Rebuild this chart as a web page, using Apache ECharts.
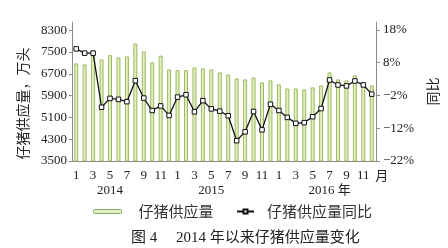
<!DOCTYPE html>
<html>
<head>
<meta charset="utf-8">
<script src="https://cdn.jsdelivr.net/npm/echarts@6/dist/echarts.min.js"></script>
<style>
html,body{margin:0;padding:0;background:#fff;}
#c{width:448px;height:248px;}
</style>
</head>
<body>
<div id="c"></div>
<script>
const years = ['2014', '2015', '2016'];
const months = ['1','2','3','4','5','6','7','8','9','10','11','12'];
const supply = [
  7080, 7043, 7567, 7226, 7384, 7300, 7336, 7812, 7519, 7116, 7366, 6860,
  6834, 6834, 6933, 6897, 6860, 6750, 6677, 6530, 6493, 6567, 6384, 6457,
  6310, 6160, 6164, 6127, 6200, 6277, 6750, 6493, 6457, 6640, 6384, 6274
];
const yoy = [
  12.2, 10.9, 10.9, -5.6, -2.9, -3.2, -3.9, 2.5, -2.8, -6.6, -5.2, -8.1,
  -2.5, -1.8, -7.0, -3.6, -6.1, -6.8, -8.2, -15.8, -13.1, -6.9, -12.5, -4.7,
  -6.6, -8.7, -10.5, -10.3, -8.5, -6.0, 2.7, 1.2, 0.9, 2.4, 1.2, -1.6
];
const leftAxis = { min: 3500, max: 8600, interval: 800 };
const rightAxis = { min: -22, max: 20.4, interval: 10 };
const yearLabels = { 4: '2014', 16: '2015', 30: '2016 年' };
const monthEndLabel = '月';
const seriesNames = ['仔猪供应量', '仔猪供应量同比'];
const leftName = '仔猪供应量，万头';
const rightName = '同比';
const caption = '图 4\u3000 2014 年以来仔猪供应量变化';

const categories = [];
years.forEach(y => months.forEach(m => categories.push(y + '-' + m)));

const serif = "'Liberation Serif', 'Noto Sans CJK SC', serif";
const cjk = "'Noto Sans CJK SC', 'Liberation Serif', serif";
const axisColor = '#8a8a8a';
const barFill = '#e3eec0';
const barBorder = '#9cba62';

const chart = echarts.init(document.getElementById('c'), null, { renderer: 'canvas' });
chart.setOption({
  animation: false,
  backgroundColor: '#fff',
  title: {
    text: caption,
    left: 126, top: 226,
    textStyle: { fontFamily: serif, fontSize: 15, fontWeight: 'normal', color: '#222' }
  },
  legend: [
    {
      data: [{ name: seriesNames[0], itemStyle: { color: barFill, borderColor: '#7fb070', borderWidth: 1 } }],
      left: 88, top: 199,
      itemWidth: 28, itemHeight: 4,
      textStyle: { fontFamily: cjk, fontSize: 15, color: '#333', padding: [0, 0, 0, 12] }
    },
    {
      data: [seriesNames[1]],
      left: 231, top: 199,
      itemWidth: 17, itemHeight: 5,
      textStyle: { fontFamily: cjk, fontSize: 15, color: '#333', padding: [0, 0, 0, 8] }
    }
  ],
  grid: { left: 72, right: 71, top: 22, bottom: 87, containLabel: false },
  xAxis: [
    {
      type: 'category', data: categories, boundaryGap: true, position: 'bottom',
      axisLine: { onZero: false, lineStyle: { color: axisColor, width: 1 } },
      axisTick: { interval: 11, length: 5, lineStyle: { color: axisColor } },
      axisPointer: { show: false },
      axisLabel: {
        interval: 0, margin: 8, fontFamily: serif, fontSize: 13, color: '#222',
        formatter: (v, i) => {
          if (i === categories.length - 1) return '{e|' + monthEndLabel + '}';
          const m = Number(v.split('-')[1]);
          return m % 2 === 1 ? String(m) : '';
        },
        rich: { e: { fontFamily: cjk, fontSize: 13, color: '#222', padding: [0, 0, 0, 20] } }
      },
      splitLine: { show: false }
    },
    {
      type: 'category', data: categories, boundaryGap: true, position: 'bottom', offset: 15,
      axisLine: { show: false, onZero: false }, axisTick: { show: false },
      axisPointer: { show: false },
      axisLabel: {
        interval: 0, margin: 8, fontFamily: serif, fontSize: 13, color: '#222',
        formatter: (v, i) => yearLabels[i] || ''
      },
      splitLine: { show: false }
    }
  ],
  yAxis: [
    {
      type: 'value', min: leftAxis.min, max: leftAxis.max, interval: leftAxis.interval,
      position: 'left',
      name: leftName, nameLocation: 'middle', nameRotate: 90, nameGap: 33,
      nameTextStyle: { fontFamily: cjk, fontSize: 14, color: '#222', padding: [0, 24, 0, 0] },
      axisLine: { show: true, onZero: false, lineStyle: { color: axisColor } },
      axisTick: { show: true, inside: false, length: 3, lineStyle: { color: axisColor } },
      axisLabel: { showMaxLabel: false, margin: 5, fontFamily: serif, fontSize: 13, color: '#222',
        formatter: v => String(v) },
      splitLine: { show: false }
    },
    {
      type: 'value', min: rightAxis.min, max: rightAxis.max, interval: rightAxis.interval,
      position: 'right',
      name: rightName, nameLocation: 'middle', nameRotate: 90, nameGap: 44,
      nameTextStyle: { fontFamily: cjk, fontSize: 14, color: '#222', padding: [6, 0, 0, 0] },
      axisLine: { show: true, onZero: false, lineStyle: { color: axisColor } },
      axisTick: { show: true, inside: false, length: 4, lineStyle: { color: axisColor } },
      axisLabel: {
        showMaxLabel: false, margin: 7, fontFamily: serif, fontSize: 13, color: '#222',
        formatter: v => (v < 0 ? '\u2212' + Math.abs(v) : String(v)) + '%'
      },
      splitLine: { show: false }
    }
  ],
  series: [
    {
      name: seriesNames[0], type: 'bar', data: supply, xAxisIndex: 0, yAxisIndex: 0,
      barWidth: 4,
      itemStyle: {
        color: new echarts.graphic.LinearGradient(0, 0, 1, 0, [
          { offset: 0, color: '#eef5d6' }, { offset: 1, color: '#d6e6a4' }
        ]),
        borderColor: barBorder, borderWidth: 1
      }
    },
    {
      name: seriesNames[1], type: 'line', data: yoy, xAxisIndex: 0, yAxisIndex: 1,
      symbol: 'rect', symbolSize: 4.5, showAllSymbol: true,
      lineStyle: { color: '#111', width: 1.3 },
      itemStyle: { color: '#fff', borderColor: '#111', borderWidth: 1 }
    }
  ]
});
</script>
</body>
</html>
